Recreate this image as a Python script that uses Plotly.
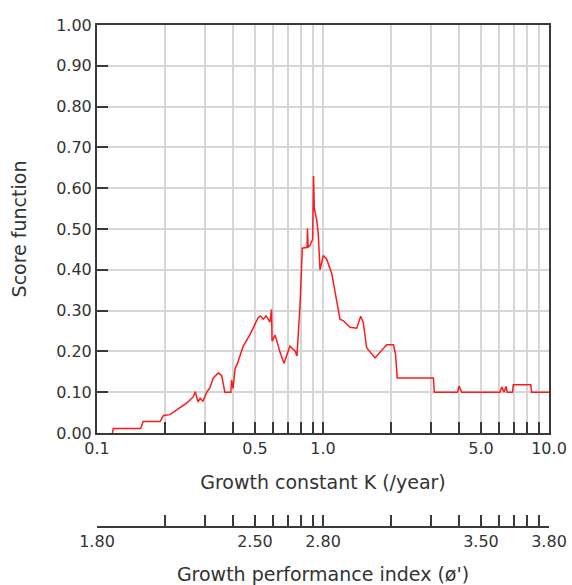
import numpy as np
import plotly.graph_objects as go

# score function vs growth constant K
k_values = [0.117, 0.118, 0.156, 0.160, 0.190, 0.197, 0.210, 0.233, 0.250, 0.267,
            0.272, 0.280, 0.286, 0.294, 0.306, 0.316, 0.327, 0.344, 0.356, 0.368,
            0.391, 0.394, 0.400, 0.408, 0.418, 0.437, 0.444, 0.475, 0.517, 0.530,
            0.544, 0.560, 0.583, 0.592, 0.595, 0.614, 0.646, 0.672, 0.714, 0.755,
            0.767, 0.791, 0.810, 0.850, 0.854, 0.859, 0.876, 0.900, 0.908, 0.915,
            0.938, 0.953, 0.970, 1.003, 1.038, 1.093, 1.150, 1.189, 1.230, 1.317,
            1.410, 1.468, 1.507, 1.560, 1.698, 1.787, 1.914, 2.050, 2.094, 2.130,
            3.080, 3.110, 3.940, 4.000, 4.110, 6.070, 6.180, 6.320, 6.460, 6.530,
            6.900, 6.950, 8.300, 8.380, 10.0]
score_values = [0.000, 0.011, 0.011, 0.028, 0.028, 0.043, 0.045, 0.063, 0.074, 0.089,
                0.101, 0.076, 0.085, 0.078, 0.100, 0.111, 0.135, 0.147, 0.141, 0.100,
                0.100, 0.130, 0.109, 0.157, 0.170, 0.202, 0.213, 0.241, 0.283, 0.287,
                0.279, 0.287, 0.272, 0.303, 0.225, 0.240, 0.197, 0.171, 0.213, 0.200,
                0.189, 0.312, 0.453, 0.455, 0.501, 0.455, 0.460, 0.475, 0.630, 0.550,
                0.523, 0.488, 0.400, 0.435, 0.426, 0.391, 0.320, 0.279, 0.275, 0.259,
                0.257, 0.286, 0.271, 0.209, 0.184, 0.197, 0.216, 0.216, 0.193, 0.135,
                0.135, 0.100, 0.100, 0.115, 0.100, 0.100, 0.113, 0.100, 0.114, 0.100,
                0.100, 0.118, 0.118, 0.100, 0.100]

k_ticks = [0.1, 0.2, 0.3, 0.4, 0.5, 0.6, 0.7, 0.8, 0.9,
           1, 2, 3, 4, 5, 6, 7, 8, 9, 10]
k_tick_text = ['0.1', '', '', '', '0.5', '', '', '', '',
               '1.0', '', '', '', '5.0', '', '', '', '', '10.0']
# phi' = log10(K) + 2*log10(Linf), so it runs along the same log K scale
phi_tick_text = ['1.80', '', '', '', '2.50', '', '', '', '',
                 '2.80', '', '', '', '3.50', '', '', '', '', '3.80']
score_ticks = [0.0, 0.1, 0.2, 0.3, 0.4, 0.5, 0.6, 0.7, 0.8, 0.9, 1.0]
score_tick_text = ['0.00', '0.10', '0.20', '0.30', '0.40', '0.50',
                   '0.60', '0.70', '0.80', '0.90', '1.00']

font_family = 'DejaVu Sans'
text_color = '#333333'
axis_color = '#3a3a3a'
grid_color = '#d6d6d6'

fig = go.Figure()
fig.add_trace(go.Scatter(x=k_values, y=score_values, mode='lines',
                         line=dict(color='#ff1a1a', width=1.5),
                         showlegend=False, hoverinfo='x+y'))
# invisible trace so the phi' axis gets drawn
fig.add_trace(go.Scatter(x=k_ticks, y=[0] * len(k_ticks), xaxis='x2', mode='markers',
                         marker=dict(opacity=0), showlegend=False, hoverinfo='skip'))

fig.update_layout(
    width=572, height=585,
    margin=dict(l=97, r=23, t=25, b=58, pad=0),
    plot_bgcolor='white', paper_bgcolor='white',
    font=dict(family=font_family, size=16, color=text_color),
    xaxis=dict(
        type='log', range=[-1, 1],
        tickmode='array', tickvals=k_ticks, ticktext=k_tick_text,
        ticks='inside', ticklen=11, tickwidth=2, tickcolor=axis_color,
        showline=True, linecolor=axis_color, linewidth=2, mirror=True,
        showgrid=True, gridcolor=grid_color, gridwidth=1.5,
        zeroline=False,
        title=dict(text='Growth constant K (/year)', standoff=18),
        automargin=False,
    ),
    yaxis=dict(
        range=[0, 1], domain=[(527 - 433) / 502, 1],
        tickmode='array', tickvals=score_ticks, ticktext=score_tick_text,
        ticks='inside', ticklen=11, tickwidth=2, tickcolor=axis_color,
        showline=True, linecolor=axis_color, linewidth=2, mirror=True,
        showgrid=True, gridcolor=grid_color, gridwidth=1.5,
        zeroline=False,
        title=dict(text='Score function', standoff=25),
        automargin=False,
    ),
    xaxis2=dict(
        type='log', range=[-1, 1], overlaying='x', anchor='free', position=0,
        side='bottom',
        tickmode='array', tickvals=k_ticks, ticktext=phi_tick_text,
        ticks='inside', ticklen=11, tickwidth=2, tickcolor=axis_color,
        showline=True, linecolor=axis_color, linewidth=2,
        showgrid=False, zeroline=False,
        title=dict(text="Growth performance index (ø')", standoff=19),
        automargin=False,
    ),
)

fig.write_html("out.html", config={'displayModeBar': False},
               post_script="document.body.style.margin='0px';")
